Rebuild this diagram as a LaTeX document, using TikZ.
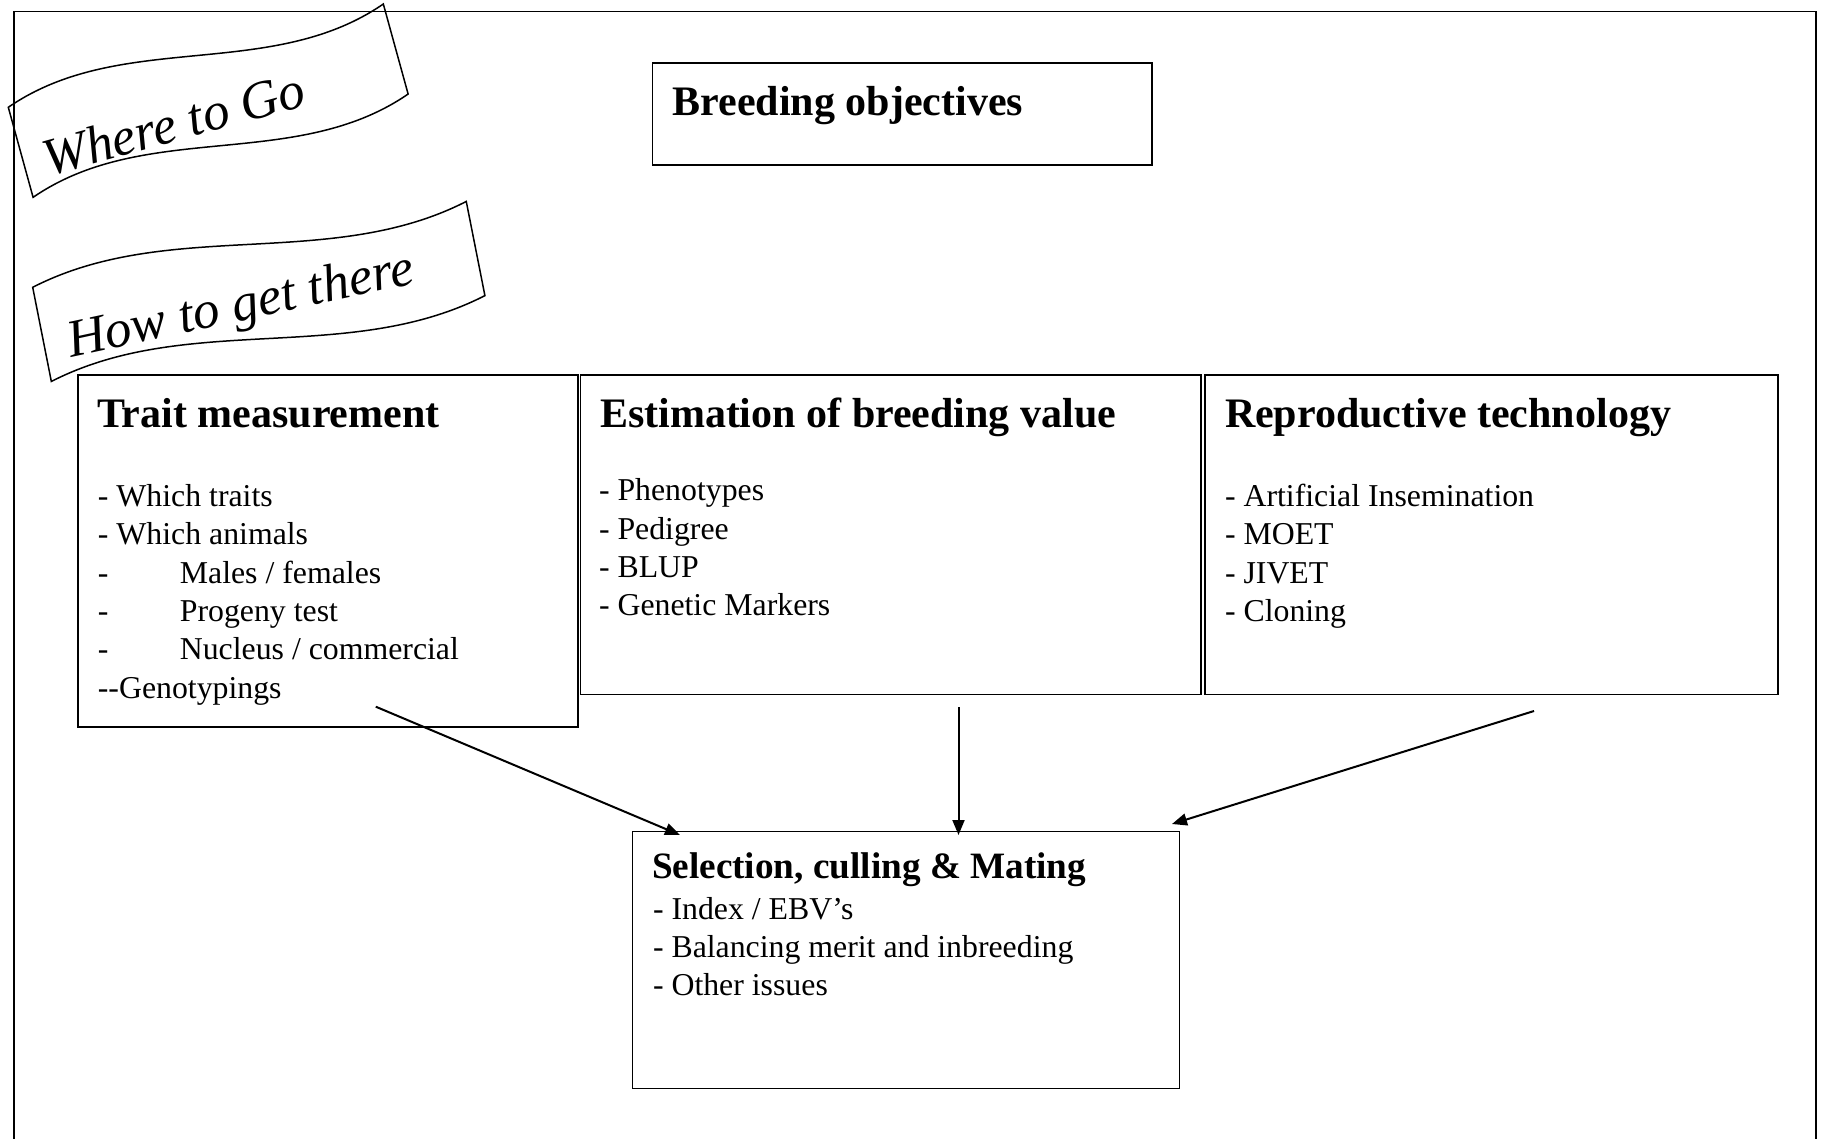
\documentclass[tikz,border=0pt]{standalone}
\usepackage{fontspec}
\setmainfont{Liberation Serif}
\usetikzlibrary{arrows.meta,calc}
\newcommand{\ttlfont}{\fontsize{42}{50}\selectfont\bfseries}
\newcommand{\bdyfont}{\fontsize{31.8}{38.3}\selectfont}
\newcommand{\selttlfont}{\fontsize{37.2}{44}\selectfont\bfseries}
\newcommand{\bnrfont}{\fontsize{53}{60}\selectfont\itshape}
\tikzset{
  boxst/.style={draw, line width=1.6pt, inner sep=0pt, outer sep=0pt, anchor=north west},
  txt/.style={anchor=base west, inner sep=0pt, outer sep=0pt},
  conn/.style={line width=2pt, -{Triangle[length=15pt,width=12pt]}},
  bannerline/.style={draw, line width=1.5pt, line join=miter},
  framest/.style={line width=1.3pt},
}
\begin{document}
\begin{tikzpicture}[x=1pt,y=-1pt]
\useasboundingbox (0,0) rectangle (1827,1139);
% outer frame
\draw[framest] (14,1139) -- (14,11.7) -- (1816,11.7) -- (1816,1139);

% banner 1
\begin{scope}[shift={(8.3,107.3)}, rotate=15.4]
  \draw[bannerline] (0,0) .. controls (129.7,-45) and (259.3,45) .. (389,0)
     -- (389,93.4) .. controls (259.3,138.4) and (129.7,48.4) .. (0,93.4) -- cycle;
  \node[txt, rotate=15.4] (where) at (20.6,77.5) {\bnrfont Where to Go};
\end{scope}
% banner 2
\begin{scope}[shift={(32.7,287.3)}, rotate=11.2]
  \draw[bannerline] (0,0) .. controls (147.3,-42) and (294.7,42) .. (442,0)
     -- (442,96) .. controls (294.7,138) and (147.3,54) .. (0,96) -- cycle;
  \node[txt, rotate=12.2] (how) at (24.4,76.5) {\bnrfont How to get there};
\end{scope}

% boxes
\node[boxst, minimum width=499.4pt, minimum height=102.5pt] (breed) at (652.5,62.8) {};
\node[boxst, minimum width=500pt, minimum height=351.7pt] (trait) at (78,375) {};
\node[boxst, minimum width=620.4pt, minimum height=319.4pt] (est) at (580.4,375) {};
\node[boxst, minimum width=573.2pt, minimum height=319.4pt] (repro) at (1204.8,375) {};
\node[boxst, minimum width=547pt, minimum height=257pt] (sel) at (632.5,831.5) {};

% texts
\node[txt] (breedT) at (672.7,115.5) {\ttlfont Breeding objectives};

\node[txt] (traitT) at (97,427) {\ttlfont Trait measurement};
\node[txt] (traitB) at (97.9,506.5) {\bdyfont\begin{tabular}[t]{@{}l@{}}
- Which traits\\
- Which animals\\
\makebox[82pt][l]{-}Males / females\\
\makebox[82pt][l]{-}Progeny test\\
\makebox[82pt][l]{-}Nucleus / commercial\\
-{}-Genotypings
\end{tabular}};

\node[txt] (estT) at (600,427) {\ttlfont Estimation of breeding value};
\node[txt] (estB) at (599,500.8) {\bdyfont\begin{tabular}[t]{@{}l@{}}
- Phenotypes\\
- Pedigree\\
- BLUP\\
- Genetic Markers
\end{tabular}};

\node[txt] (reproT) at (1225,427) {\ttlfont Reproductive technology};
\node[txt] (reproB) at (1225,506.5) {\bdyfont\begin{tabular}[t]{@{}l@{}}
- Artificial Insemination\\
- MOET\\
- JIVET\\
- Cloning
\end{tabular}};

\node[txt] (selT) at (652,878.7) {\selttlfont Selection, culling \& Mating};
\node[txt] (selB) at (653,919.2) {\bdyfont\begin{tabular}[t]{@{}l@{}}
- Index / EBV’s\\
- Balancing merit and inbreeding\\
- Other issues
\end{tabular}};

% connectors
\coordinate (a1s) at (375.8,706.7);
\coordinate (a2s) at (958.5,707.3);
\coordinate (a3s) at (1534,711);
\draw[conn] (a1s) -- ($(sel.north west)+(47.5,3.5)$);
\draw[conn] (a2s) -- ($(sel.north west)+(326,3.5)$);
\draw[conn] (a3s) -- ($(sel.north east)+(-7.5,-7.5)$);
\end{tikzpicture}
\end{document}
